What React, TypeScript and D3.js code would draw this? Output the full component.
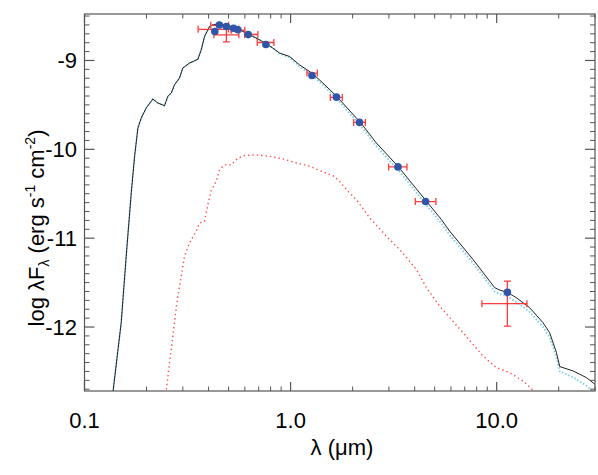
import React from 'react';
import * as d3 from 'd3';

// model SED (black), wavelength in micron, log lambda F_lambda
const modelWave = [0.137, 0.1507, 0.1594, 0.1686, 0.175, 0.1816, 0.1885, 0.1993, 0.2146, 0.227, 0.2445, 0.2537, 0.2636, 0.2735, 0.289, 0.3, 0.3234, 0.3548, 0.3685, 0.3824, 0.4043, 0.4196, 0.452, 0.4945, 0.545, 0.6095, 0.707, 0.8205, 0.8843, 0.9888, 1.106, 1.269, 1.435, 1.667, 2.084, 2.163, 2.606, 3.318, 4.522, 5.39, 5.913, 7.674, 9.78, 10.34, 11.27, 12.46, 14.45, 16.78, 18.07, 19.5, 20.23, 23.46, 27.25, 30];
const modelFlux = [-12.76, -11.95, -11.2, -10.49, -10.08, -9.76, -9.647, -9.535, -9.434, -9.479, -9.509, -9.404, -9.366, -9.273, -9.198, -9.085, -9.029, -8.987, -8.88, -8.73, -8.618, -8.599, -8.588, -8.604, -8.636, -8.692, -8.767, -8.861, -8.917, -8.955, -9.05, -9.142, -9.254, -9.4, -9.647, -9.685, -9.928, -10.191, -10.573, -10.79, -10.921, -11.239, -11.557, -11.584, -11.61, -11.67, -11.782, -11.951, -12.063, -12.288, -12.445, -12.494, -12.569, -12.645];
// cyan dotted model (same grid)
const cyanFlux = [-12.76, -11.95, -11.2, -10.49, -10.08, -9.76, -9.647, -9.535, -9.434, -9.479, -9.509, -9.404, -9.366, -9.273, -9.198, -9.085, -9.029, -8.987, -8.88, -8.73, -8.618, -8.599, -8.588, -8.604, -8.636, -8.692, -8.767, -8.861, -8.922, -8.968, -9.07, -9.165, -9.278, -9.425, -9.68, -9.72, -9.965, -10.228, -10.615, -10.832, -10.962, -11.28, -11.6, -11.63, -11.658, -11.718, -11.83, -12.0, -12.112, -12.34, -12.5, -12.565, -12.66, -12.75];
// red dotted component
const redWave = [0.2445, 0.2492, 0.2586, 0.2683, 0.2806, 0.2947, 0.3058, 0.3234, 0.3485, 0.3616, 0.3824, 0.3968, 0.4121, 0.4358, 0.452, 0.4782, 0.5154, 0.545, 0.5867, 0.6817, 0.7909, 0.9176, 1.066, 1.237, 1.435, 1.604, 1.729, 1.897, 2.084, 2.418, 2.915, 3.446, 4.076, 4.56, 5.288, 6.862, 8.58, 9.966, 11.56, 13.42, 15.29, 16.5];
const redFlux = [-12.85, -12.72, -12.4, -12.101, -11.726, -11.427, -11.202, -11.052, -10.921, -10.831, -10.809, -10.621, -10.464, -10.36, -10.228, -10.175, -10.175, -10.116, -10.071, -10.062, -10.079, -10.108, -10.153, -10.191, -10.254, -10.296, -10.36, -10.472, -10.565, -10.771, -10.978, -11.149, -11.352, -11.557, -11.764, -12.063, -12.326, -12.456, -12.512, -12.607, -12.73, -12.85];

// photometry: model dots and observed values with error bars
const photWave = [0.429, 0.451, 0.488, 0.529, 0.555, 0.623, 0.759, 1.27, 1.67, 2.16, 3.32, 4.52, 11.27];
const photModel = [-8.674, -8.601, -8.618, -8.638, -8.655, -8.709, -8.821, -9.169, -9.413, -9.697, -10.198, -10.588, -11.61];
const obsFlux = [-8.65, -8.605, -8.711, -8.645, -8.66, -8.708, -8.798, -9.142, -9.416, -9.697, -10.198, -10.588, -11.737];
const obsErr = [0.01, 0.01, 0.08, 0.01, 0.01, 0.01, 0.01, 0.01, 0.01, 0.01, 0.01, 0.01, 0.253];
const waveLo = [0.356, 0.41, 0.4246, 0.5, 0.515, 0.598, 0.689, 1.2, 1.558, 2.022, 2.99, 4.03, 8.48];
const waveHi = [0.517, 0.5, 0.561, 0.56, 0.6, 0.694, 0.83, 1.348, 1.782, 2.305, 3.67, 5.07, 14.03];

const xTickValues = [0.1, 1, 10];
const xTickLabels = ['0.1', '1.0', '10.0'];
const yTickValues = [-9, -10, -11, -12];
const yTickLabels = ['-9', '-10', '-11', '-12'];

const W = 598;
const H = 475;
const left = 84.5, right = 595, top = 14, bottom = 391;
const font = 'Liberation Sans, Arial, Helvetica, sans-serif';

export default function App() {
  const x = d3.scaleLog().domain([0.1, 30]).range([left, right]);
  const y = d3.scaleLinear().domain([-12.72, -8.477]).range([bottom, top]);

  const line = d3.line<[number, number]>().x(d => x(d[0])).y(d => y(d[1]));
  const model = modelWave.map((w, i) => [w, modelFlux[i]] as [number, number]);
  const cyan = modelWave.map((w, i) => [w, cyanFlux[i]] as [number, number]);
  const red = redWave.map((w, i) => [w, redFlux[i]] as [number, number]);

  const xMinor = x.ticks().filter(t => !xTickValues.some(v => Math.abs(v - t) < 1e-9));
  const yMinor: number[] = [];
  for (let k = -127; k <= -85; k++) if (k % 10 !== 0) yMinor.push(k / 10);

  const axisColor = '#555';
  const errColor = '#ff3b3b';
  const cap = 3.5;

  return (
    <svg width={W} height={H} style={{ position: 'absolute', left: 0, top: 0, background: '#fff' }} fontFamily={font}>
      <defs>
        <clipPath id="plot">
          <rect x={left} y={top} width={right - left} height={bottom - top} />
        </clipPath>
      </defs>

      <g clipPath="url(#plot)">
        <path d={line(red) || ''} fill="none" stroke="#ff4d4d" strokeWidth={1.4} strokeDasharray="1.4,3" />
        <path d={line(cyan) || ''} fill="none" stroke="#7fd0e8" strokeWidth={1.8} strokeDasharray="1.6,1.8" />
        <path d={line(model) || ''} fill="none" stroke="#222" strokeWidth={1} />

        {photWave.map((w, i) => {
          const cx = x(w);
          const cy = y(obsFlux[i]);
          const x0 = x(waveLo[i]);
          const x1 = x(waveHi[i]);
          const y0 = y(obsFlux[i] - obsErr[i]);
          const y1 = y(obsFlux[i] + obsErr[i]);
          return (
            <g key={'e' + i} stroke={errColor} strokeWidth={1.3} fill="none">
              <line x1={x0} x2={x1} y1={cy} y2={cy} />
              <line x1={x0} x2={x0} y1={cy - cap} y2={cy + cap} />
              <line x1={x1} x2={x1} y1={cy - cap} y2={cy + cap} />
              {obsErr[i] > 0.02 && (
                <>
                  <line x1={cx} x2={cx} y1={y0} y2={y1} />
                  <line x1={cx - cap} x2={cx + cap} y1={y0} y2={y0} />
                  <line x1={cx - cap} x2={cx + cap} y1={y1} y2={y1} />
                </>
              )}
            </g>
          );
        })}
        {photWave.map((w, i) => (
          <circle key={'p' + i} cx={x(w)} cy={y(photModel[i])} r={3.8} fill="#2f55a8" />
        ))}
      </g>

      {/* frame */}
      <rect x={left} y={top} width={right - left} height={bottom - top} fill="none" stroke={axisColor} strokeWidth={1.2} />

      {/* x ticks, bottom and top */}
      {xTickValues.map(t => (
        <g key={'xm' + t} stroke={axisColor} strokeWidth={1.2}>
          <line x1={x(t)} x2={x(t)} y1={bottom} y2={bottom - 9} />
          <line x1={x(t)} x2={x(t)} y1={top} y2={top + 9} />
        </g>
      ))}
      {xMinor.map(t => (
        <g key={'xn' + t} stroke={axisColor} strokeWidth={1}>
          <line x1={x(t)} x2={x(t)} y1={bottom} y2={bottom - 4.5} />
          <line x1={x(t)} x2={x(t)} y1={top} y2={top + 4.5} />
        </g>
      ))}
      {xTickValues.map((t, i) => (
        <text key={'xl' + t} x={x(t)} y={428} fontSize={22} textAnchor="middle" fill="#000">
          {xTickLabels[i]}
        </text>
      ))}

      {/* y ticks, left and right */}
      {yTickValues.map(t => (
        <g key={'ym' + t} stroke={axisColor} strokeWidth={1.2}>
          <line x1={left} x2={left + 10} y1={y(t)} y2={y(t)} />
          <line x1={right} x2={right - 10} y1={y(t)} y2={y(t)} />
        </g>
      ))}
      {yMinor.map(t => (
        <g key={'yn' + t} stroke={axisColor} strokeWidth={1}>
          <line x1={left} x2={left + 5} y1={y(t)} y2={y(t)} />
          <line x1={right} x2={right - 5} y1={y(t)} y2={y(t)} />
        </g>
      ))}
      {yTickValues.map((t, i) => (
        <text key={'yl' + t} x={77} y={y(t) + 7.5} fontSize={22} textAnchor="end" fill="#000">
          {yTickLabels[i]}
        </text>
      ))}

      {/* axis titles */}
      <text x={342} y={455} fontSize={22} textAnchor="middle" fill="#000">
        λ (μm)
      </text>
      <text transform="translate(44,228) rotate(-90)" fontSize={22} textAnchor="middle" fill="#000">
        log λF<tspan fontSize={14} dy={5}>λ</tspan>
        <tspan dy={-5}> (erg s</tspan>
        <tspan fontSize={14} dy={-9}>-1</tspan>
        <tspan dy={9}> cm</tspan>
        <tspan fontSize={14} dy={-9}>-2</tspan>
        <tspan dy={9}>)</tspan>
      </text>
    </svg>
  );
}
